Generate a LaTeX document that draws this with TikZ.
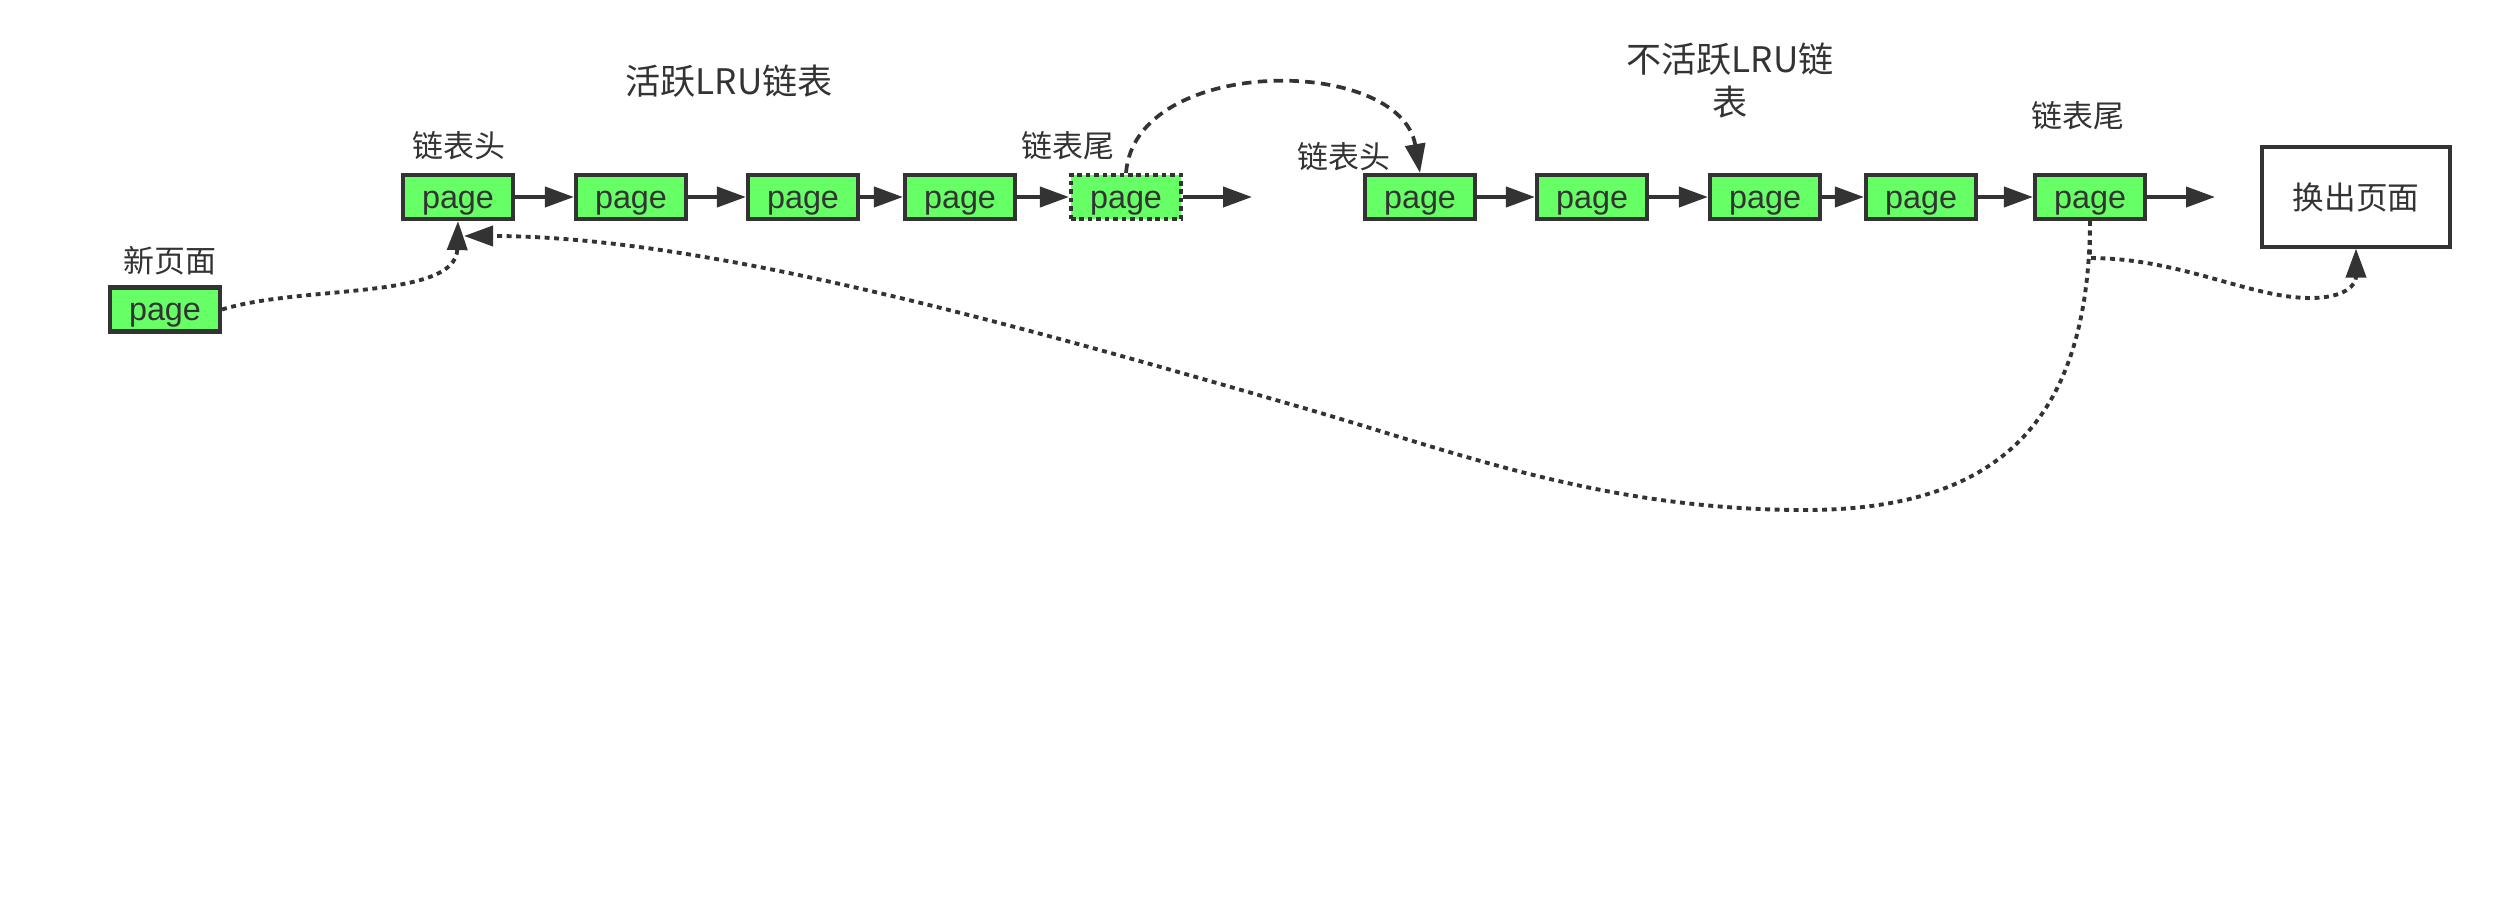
\documentclass[tikz,border=0pt]{standalone}
\usepackage{fontspec}
\setmainfont{Noto Sans CJK SC}
\newfontfamily\pagefont{Liberation Sans}
\usetikzlibrary{arrows.meta}
\definecolor{dk}{HTML}{333333}
\definecolor{pgreen}{HTML}{66FF66}
\begin{document}
\begin{tikzpicture}[x=0.01cm,y=-0.01cm,
  pg/.style={draw=dk, fill=pgreen, line width=1.15pt, minimum width=1.1cm, minimum height=0.44cm, inner sep=0pt, text=dk, text height=0.85em, text depth=0.21em, font=\pagefont\fontsize{9.2pt}{10pt}\selectfont},
  pgdash/.style={pg, dash pattern=on 1.3pt off 1.1pt},
  outbox/.style={draw=dk, fill=white, line width=1.15pt, minimum width=1.88cm, minimum height=0.99cm, inner sep=0pt, text=dk, font=\fontsize{9pt}{10pt}\selectfont},
  lbl/.style={inner sep=0pt, text=dk, font=\fontsize{8.8pt}{10pt}\selectfont},
  ttl/.style={inner sep=0pt, text=dk, align=center, font=\fontsize{10pt}{12.2pt}\selectfont},
  tipA/.style={-{Triangle[length=2.9mm,width=2mm]}},
  chain/.style={draw=dk, line width=1.15pt, tipA},
  dotc/.style={draw=dk, line width=1.1pt, dash pattern=on 1.4pt off 1.3pt, tipA},
  dashc/.style={draw=dk, line width=1.05pt, dash pattern=on 2.7pt off 1.8pt, tipA}
]
\useasboundingbox (0,0) rectangle (2500,915);

% titles and labels
\node[ttl] (t1) at (729,81) {活跃LRU链表};
\node[ttl] (t2) at (1730,80.5) {不活跃LRU链\\表};
\node[lbl] (l1) at (459,146) {链表头};
\node[lbl] (l2) at (1068,146) {链表尾};
\node[lbl] (l3) at (1344,157) {链表头};
\node[lbl] (l4) at (2078,116) {链表尾};
\node[lbl] (l5) at (170,261) {新页面};

% active list
\node[pg] (a1) at (458,197) {page};
\node[pg] (a2) at (631,197) {page};
\node[pg] (a3) at (803,197) {page};
\node[pg] (a4) at (960,197) {page};
\node[pgdash] (a5) at (1126,197) {page};
\coordinate (ae) at (1252,197);

% inactive list
\node[pg] (b1) at (1420,197) {page};
\node[pg] (b2) at (1592,197) {page};
\node[pg] (b3) at (1765,197) {page};
\node[pg] (b4) at (1921,197) {page};
\node[pg] (b5) at (2090,197) {page};
\coordinate (be) at (2215,197);

% new page and evicted
\node[pg] (np) at (165,309.5) {page};
\node[outbox] (out) at (2356,197) {换出页面};
\coordinate (a1in) at (464,236);

% chain arrows
\draw[chain] (a1) -- (a2);
\draw[chain] (a2) -- (a3);
\draw[chain] (a3) -- (a4);
\draw[chain] (a4) -- (a5);
\draw[chain] (a5) -- (ae);
\draw[chain] (b1) -- (b2);
\draw[chain] (b2) -- (b3);
\draw[chain] (b3) -- (b4);
\draw[chain] (b4) -- (b5);
\draw[chain] (b5) -- (be);

% moving tail of active list to head of inactive list
\draw[dashc] (a5.north) .. controls (1135,55) and (1400,55) .. (b1.north);

% new page to head of active list
\draw[dotc] (np.east) .. controls (300,285) and (456,300) .. (a1.south);

% inactive tail back to active head
\draw[dotc] (b5.south) .. controls (2089,420) and (2000,510) .. (1805,510)
  .. controls (1600,510) and (1450,450) .. (1300,407)
  .. controls (1000,320) and (700,236) .. (a1in);

% inactive tail evicted
\draw[dotc] (b5.south) -- ++(0,37) .. controls (2180,258) and (2250,298) .. (2310,298)
  .. controls (2345,298) and (2356,285) .. (out.south);
\end{tikzpicture}
\end{document}
